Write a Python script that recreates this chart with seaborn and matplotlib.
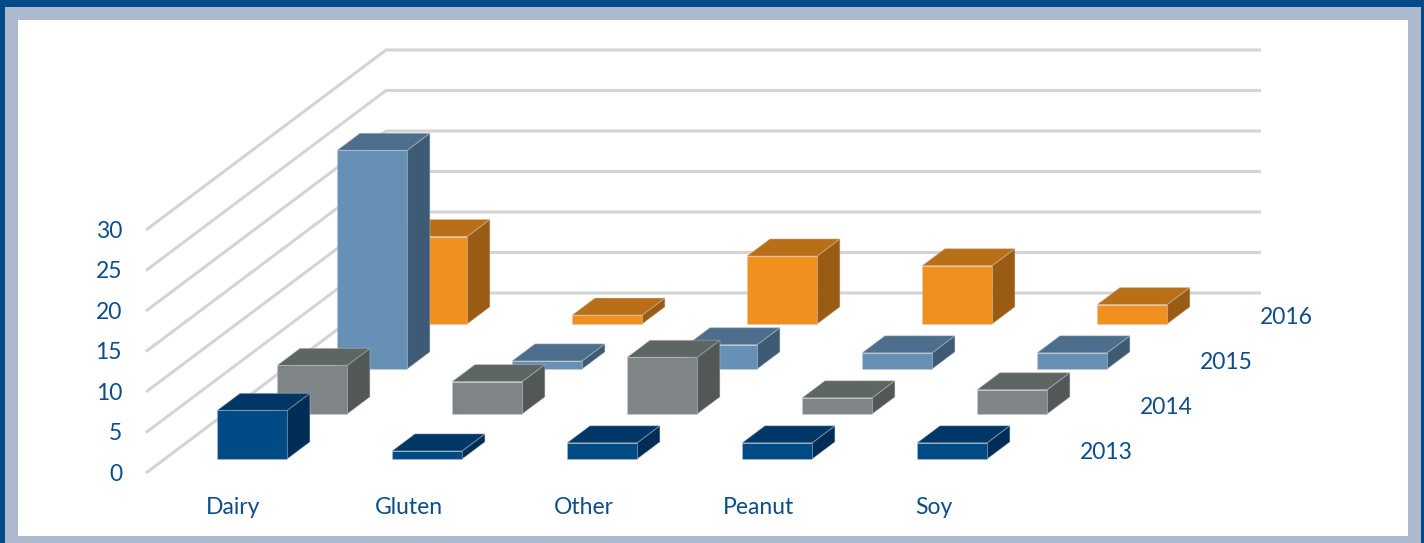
import matplotlib
matplotlib.use("Agg")
import matplotlib.pyplot as plt
from matplotlib.patches import Polygon, Rectangle
import pandas as pd
import seaborn as sns

# ---- data -------------------------------------------------------------
categories = ["Dairy", "Gluten", "Other", "Peanut", "Soy"]
years = ["2013", "2014", "2015", "2016"]
v2013 = [6, 1, 2, 2, 2]
v2014 = [6, 4, 7, 2, 3]
v2015 = [27, 1, 3, 2, 2]
v2016 = [10.8, 1.1, 8.4, 7.2, 2.4]
y_ticks = [0, 5, 10, 15, 20, 25, 30]

df = pd.DataFrame({"category": categories * 4,
                   "year": [y for y in years for _ in categories],
                   "value": v2013 + v2014 + v2015 + v2016})

# ---- styling ------------------------------------------------------------
sns.set_theme(style="white")
plt.rcParams["font.family"] = ["Lato", "DejaVu Sans"]

front_pal = sns.color_palette(["#004a86", "#7f8587", "#6690b6", "#f18f1f"])
top_pal = sns.color_palette(["#003766", "#5e6664", "#4d6e8c", "#b96f17"])
side_pal = sns.color_palette(["#002d55", "#515857", "#3e5b75", "#9a5c12"])
text_color = "#0d4e8a"
grid_color = "#d4d4d4"
FS = 16.5

W, H = 1424, 543
PX_CAT = 175.0      # pixels per category step
PX_VAL = 8.1        # pixels per value unit
ORIGIN_X = 146.0    # front-left floor corner (pixels)
ORIGIN_Y = 473.0
ROW_DX = 60.0 / PX_CAT   # oblique shift per depth row, in category units
ROW_DY = 45.0 / PX_VAL   # oblique shift per depth row, in value units
N_ROWS = len(years)
BAR_W = 0.40
BAR_D = 0.38

fig = plt.figure(figsize=(W / 100, H / 100), dpi=100, facecolor="#004b87")
fig.add_artist(Rectangle((5 / W, 0), 1416 / W, 1 - 7 / H, transform=fig.transFigure,
                         facecolor="#adb9cc", edgecolor="none", zorder=-3))
fig.add_artist(Rectangle((18 / W, 7 / H), 1390 / W, 516 / H, transform=fig.transFigure,
                         facecolor="white", edgecolor="none", zorder=-2))

ax = fig.add_axes([0, 0, 1, 1])
ax.set_facecolor("none")
ax.set_xlim(-0.5 - ORIGIN_X / PX_CAT, -0.5 + (W - ORIGIN_X) / PX_CAT)
ax.set_ylim(-(H - ORIGIN_Y) / PX_VAL, ORIGIN_Y / PX_VAL)
ax.axis("off")


def proj(x, z, v):
    """Oblique projection of (category x, depth z, value v) into axes data."""
    return (x + z * ROW_DX, v + z * ROW_DY)


# gridlines: left wall diagonals and back wall horizontals
x_left, x_right = -0.5, len(categories) - 0.5
for t in y_ticks:
    pts = [proj(x_left, 0, t), proj(x_left, N_ROWS, t), proj(x_right, N_ROWS, t)]
    ax.plot(*zip(*pts), color=grid_color, lw=2.2, solid_capstyle="butt", zorder=1)
    ax.text(*proj(x_left - 24 / PX_CAT, 0, t - 0.15), str(t), ha="right", va="center",
            fontsize=FS, color=text_color)


def draw_box(xc, zc, value, k, zorder):
    x0, x1 = xc - BAR_W / 2, xc + BAR_W / 2
    z0, z1 = zc - BAR_D / 2, zc + BAR_D / 2
    edge = dict(edgecolor=(0.8, 0.8, 0.8, 0.35), lw=0.8, zorder=zorder)
    front = [proj(x0, z0, 0), proj(x1, z0, 0), proj(x1, z0, value), proj(x0, z0, value)]
    top = [proj(x0, z0, value), proj(x1, z0, value), proj(x1, z1, value), proj(x0, z1, value)]
    side = [proj(x1, z0, 0), proj(x1, z1, 0), proj(x1, z1, value), proj(x1, z0, value)]
    ax.add_patch(Polygon(side, closed=True, facecolor=side_pal[k], **edge))
    ax.add_patch(Polygon(top, closed=True, facecolor=top_pal[k], **edge))
    ax.add_patch(Polygon(front, closed=True, facecolor=front_pal[k], **edge))


# back rows first, left to right within each row
for k in reversed(range(N_ROWS)):
    sub = df[df["year"] == years[k]]
    zc = k + 0.5
    for i, val in enumerate(sub["value"]):
        draw_box(i, zc, val, k, zorder=10 + (N_ROWS - k) * 10 + i)
    # series label at the right end of its row
    ax.text(*proj(x_right + 29 / PX_CAT, zc, -0.3), years[k], ha="left", va="center",
            fontsize=FS, color=text_color)

for i, c in enumerate(categories):
    ax.text(*proj(i, 0, -34.5 / PX_VAL), c, ha="center", va="center",
            fontsize=FS, color=text_color)

fig.savefig("out.png", dpi=100, facecolor=fig.get_facecolor())
